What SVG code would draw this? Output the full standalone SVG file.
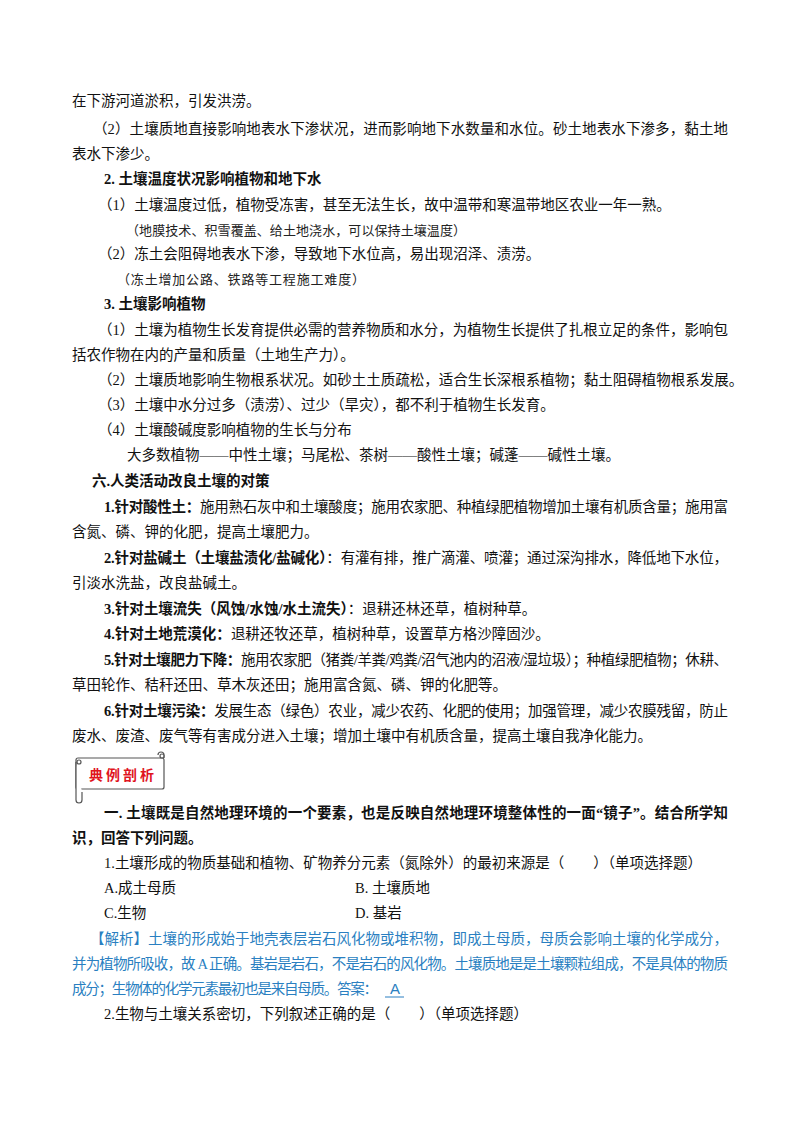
<svg xmlns="http://www.w3.org/2000/svg" width="800" height="1132" viewBox="0 0 800 1132">
<style>
text{font-family:"Liberation Serif","Noto Sans CJK SC",serif;font-size:14.5px;fill:#111}
.b{font-weight:bold}
.k{font-size:13px;fill:#222}
.bl{fill:#2a7fc1}
.r{fill:#e0141e;font-weight:bold;font-size:14px;letter-spacing:3px}
</style>
<rect width="800" height="1132" fill="#fff"/>
<text x="72" y="106">在下游河道淤积，引发洪涝。</text>
<text x="93" y="134" textLength="635">（2）土壤质地直接影响地表水下渗状况，进而影响地下水数量和水位。砂土地表水下渗多，黏土地</text>
<text x="72" y="159">表水下渗少。</text>
<text x="104" y="184" class="b">2. 土壤温度状况影响植物和地下水</text>
<text x="98" y="210">（1）土壤温度过低，植物受冻害，甚至无法生长，故中温带和寒温带地区农业一年一熟。</text>
<text x="126" y="235" class="k" textLength="340">（地膜技术、积雪覆盖、给土地浇水，可以保持土壤温度）</text>
<text x="98" y="259">（2）冻土会阻碍地表水下渗，导致地下水位高，易出现沼泽、渍涝。</text>
<text x="117" y="284" class="k" textLength="248">（冻土增加公路、铁路等工程施工难度）</text>
<text x="104" y="309" class="b">3. 土壤影响植物</text>
<text x="98" y="335" textLength="630">（1）土壤为植物生长发育提供必需的营养物质和水分，为植物生长提供了扎根立足的条件，影响包</text>
<text x="72" y="360">括农作物在内的产量和质量（土地生产力）。</text>
<text x="98" y="385">（2）土壤质地影响生物根系状况。如砂土土质疏松，适合生长深根系植物；黏土阻碍植物根系发展。</text>
<text x="98" y="410">（3）土壤中水分过多（渍涝）、过少（旱灾），都不利于植物生长发育。</text>
<text x="98" y="435">（4）土壤酸碱度影响植物的生长与分布</text>
<text x="127" y="460">大多数植物——中性土壤；马尾松、茶树——酸性土壤；碱蓬——碱性土壤。</text>
<text x="92" y="486" class="b">六.人类活动改良土壤的对策</text>
<text x="104" y="512" textLength="624"><tspan class="b">1.针对酸性土：</tspan>施用熟石灰中和土壤酸度；施用农家肥、种植绿肥植物增加土壤有机质含量；施用富</text>
<text x="72" y="537">含氮、磷、钾的化肥，提高土壤肥力。</text>
<text x="104" y="563" textLength="624"><tspan class="b">2.针对盐碱土（土壤盐渍化/盐碱化）</tspan>：有灌有排，推广滴灌、喷灌；通过深沟排水，降低地下水位，</text>
<text x="72" y="588">引淡水洗盐，改良盐碱土。</text>
<text x="104" y="614"><tspan class="b">3.针对土壤流失（风蚀/水蚀/水土流失）</tspan>：退耕还林还草，植树种草。</text>
<text x="104" y="639"><tspan class="b">4.针对土地荒漠化：</tspan>退耕还牧还草，植树种草，设置草方格沙障固沙。</text>
<text x="104" y="665" textLength="624"><tspan class="b">5.针对土壤肥力下降：</tspan>施用农家肥（猪粪/羊粪/鸡粪/沼气池内的沼液/湿垃圾）；种植绿肥植物；休耕、</text>
<text x="72" y="690">草田轮作、秸秆还田、草木灰还田；施用富含氮、磷、钾的化肥等。</text>
<text x="104" y="716" textLength="624"><tspan class="b">6.针对土壤污染：</tspan>发展生态（绿色）农业，减少农药、化肥的使用；加强管理，减少农膜残留，防止</text>
<text x="72" y="741">废水、废渣、废气等有害成分进入土壤；增加土壤中有机质含量，提高土壤自我净化能力。</text>
<g id="banner" fill="#fff" stroke="#555" stroke-width="1.2">
<rect x="76" y="758" width="88" height="31" rx="2"/>
<path d="M76 762 v38 a3 3 0 0 0 6 0 v-8"/>
<path d="M164 758 v-3 a3 3 0 0 0 -6 0"/>
<circle cx="79" cy="762" r="2"/>
<circle cx="162" cy="756" r="2"/>
</g>
<text x="89" y="780" class="r">典例剖析</text>
<text x="104" y="818" class="b" textLength="624">一. 土壤既是自然地理环境的一个要素，也是反映自然地理环境整体性的一面“镜子”。结合所学知</text>
<text x="72" y="843" class="b">识，回答下列问题。</text>
<text x="104" y="868">1.土壤形成的物质基础和植物、矿物养分元素（氮除外）的最初来源是（　　）（单项选择题）</text>
<text x="104" y="893">A.成土母质</text>
<text x="355" y="893">B.  土壤质地</text>
<text x="104" y="918">C.生物</text>
<text x="355" y="918">D.  基岩</text>
<text x="90" y="944" class="bl" textLength="638">【解析】土壤的形成始于地壳表层岩石风化物或堆积物，即成土母质，母质会影响土壤的化学成分，</text>
<text x="72" y="969" class="bl" textLength="656">并为植物所吸收，故 A 正确。基岩是岩石，不是岩石的风化物。土壤质地是是土壤颗粒组成，不是具体的物质</text>
<text x="72" y="994" class="bl" textLength="306">成分；生物体的化学元素最初也是来自母质。答案：</text>
<text x="390" y="994" class="bl" style="font-family:'Liberation Sans',sans-serif;font-size:15px">A</text>
<line x1="385" y1="997" x2="404" y2="997" stroke="#2a7fc1" stroke-width="1"/>
<text x="104" y="1019">2.生物与土壤关系密切，下列叙述正确的是（　　）（单项选择题）</text>
</svg>
